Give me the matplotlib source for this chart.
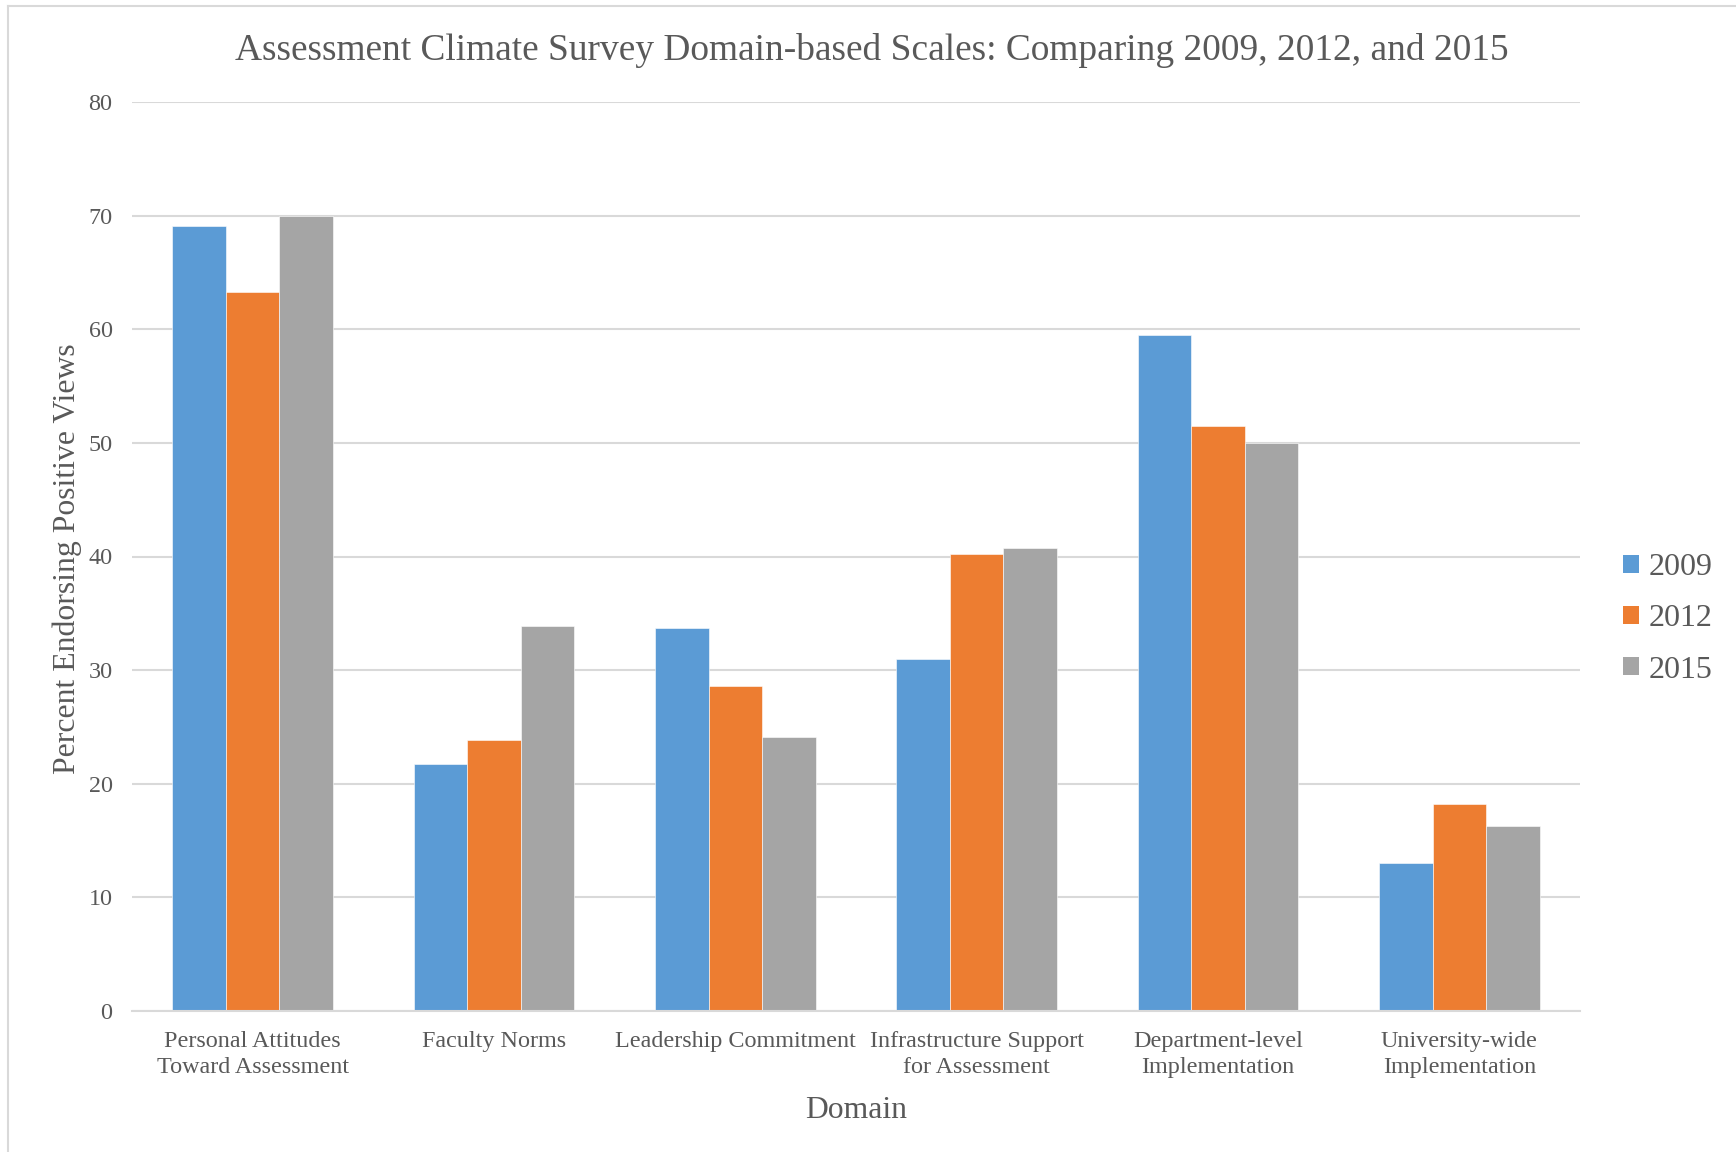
import matplotlib
matplotlib.use("Agg")
import matplotlib.pyplot as plt
from matplotlib.patches import Patch
from matplotlib.lines import Line2D
import numpy as np

plt.rcParams['font.family'] = ['Liberation Serif', 'DejaVu Serif']

categories = [
    "Personal Attitudes\nToward Assessment",
    "Faculty Norms",
    "Leadership Commitment",
    "Infrastructure Support\nfor Assessment",
    "Department-level\nImplementation",
    "University-wide\nImplementation",
]
years = ["2009", "2012", "2015"]
values_2009 = [69.1, 21.7, 33.7, 30.95, 59.5, 13.05]
values_2012 = [63.3, 23.85, 28.6, 40.2, 51.5, 18.2]
values_2015 = [70.0, 33.9, 24.1, 40.75, 50.0, 16.3]
yticks = [0, 10, 20, 30, 40, 50, 60, 70, 80]

colors = ["#5B9BD5", "#ED7D31", "#A5A5A5"]
text_color = "#595959"
grid_color = "#D9D9D9"

W, H = 1736, 1152
fig = plt.figure(figsize=(W / 100, H / 100), dpi=100)
fig.patch.set_facecolor("white")

# axes placed in pixel terms
ax_l, ax_r, ax_t, ax_b = 132, 1580, 102, 1011
ax = fig.add_axes([ax_l / W, 1 - ax_b / H, (ax_r - ax_l) / W, (ax_b - ax_t) / H])

x = np.arange(len(categories))
bw = 0.222
series = [values_2009, values_2012, values_2015]
for i, (vals, c) in enumerate(zip(series, colors)):
    ax.bar(x + (i - 1) * bw, vals, width=bw, color=c, edgecolor="white",
           linewidth=0.4, zorder=3, label=years[i])

ax.set_xlim(-0.5, len(categories) - 0.5)
ax.set_ylim(0, 80)
ax.set_yticks(yticks)
ax.set_yticklabels([str(t) for t in yticks])
ax.set_xticks(x)
ax.set_xticklabels(categories, linespacing=1.3)
ax.yaxis.grid(True, color=grid_color, linewidth=1.5, zorder=0)
ax.set_axisbelow(True)
for s in ["top", "right", "left"]:
    ax.spines[s].set_visible(False)
ax.spines["bottom"].set_color(grid_color)
ax.spines["bottom"].set_linewidth(1.5)
ax.spines["bottom"].set_zorder(4)
ax.tick_params(axis="both", length=0, colors=text_color, labelsize=17.4)
ax.tick_params(axis="x", pad=14.5)
ax.tick_params(axis="y", pad=14)

fig.text(872 / W, 1 - 51 / H, "Assessment Climate Survey Domain-based Scales: Comparing 2009, 2012, and 2015",
         ha="center", va="center", fontsize=26.9, color=text_color)
fig.text(856 / W, 1 - 1111 / H, "Domain", ha="center", va="center",
         fontsize=22.8, color=text_color)
fig.text(67 / W, 1 - 559 / H, "Percent Endorsing Positive Views", ha="center",
         va="center", rotation=90, fontsize=22.9, color=text_color)

handles = [Patch(facecolor=c, edgecolor="none") for c in colors]
fig.legend(handles, years, loc="center left", bbox_to_anchor=(1623 / W, 1 - 619 / H),
           frameon=False, fontsize=23, handlelength=0.5, handleheight=0.5,
           handletextpad=0.3, labelspacing=0.69, borderpad=0, borderaxespad=0,
           labelcolor=text_color)

# chart-area outline
fig.add_artist(Line2D([8 / W, 1], [1 - 6 / H, 1 - 6 / H], transform=fig.transFigure,
                      color=grid_color, linewidth=1.5))
fig.add_artist(Line2D([8 / W, 8 / W], [0, 1 - 6 / H], transform=fig.transFigure,
                      color=grid_color, linewidth=1.5))

fig.savefig("out.png", dpi=100)
